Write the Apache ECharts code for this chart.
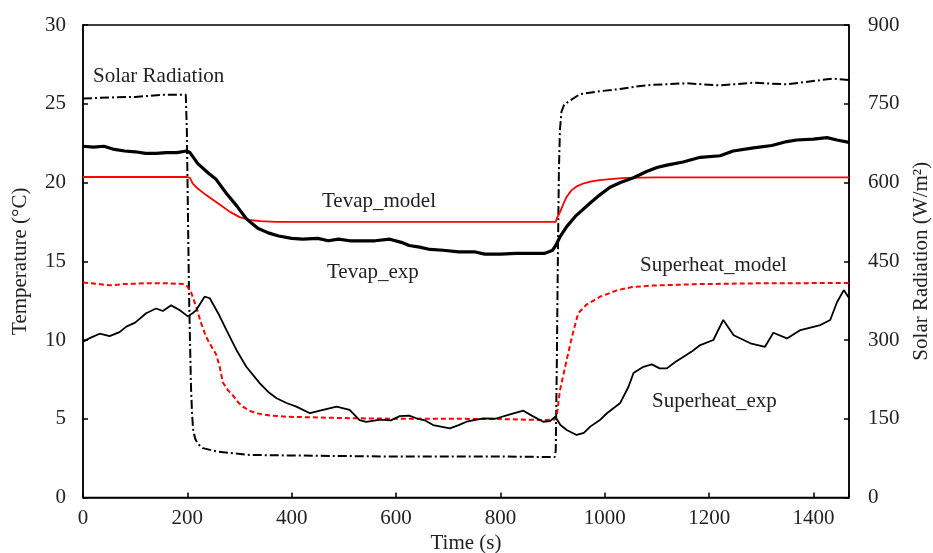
<!DOCTYPE html>
<html>
<head>
<meta charset="utf-8">
<script src="https://cdn.jsdelivr.net/npm/echarts@6/dist/echarts.min.js"></script>
<style>
  html, body { margin: 0; padding: 0; background: #fff; }
  #chart { width: 933px; height: 553px; }
</style>
</head>
<body>
<div id="chart"></div>
<script>
// time (s), value
const tevapExp = [[0,22.3],[20,22.25],[40,22.3],[60,22.1],[80,22.0],[100,21.95],[120,21.85],[140,21.85],[160,21.9],[180,21.9],[198,22.0],[205,21.9],[220,21.2],[240,20.6],[255,20.2],[275,19.3],[295,18.5],[313,17.7],[335,17.1],[355,16.8],[375,16.6],[400,16.45],[421,16.4],[450,16.45],[470,16.3],[490,16.4],[511,16.3],[540,16.3],[560,16.3],[588,16.4],[610,16.2],[625,16.0],[645,15.9],[665,15.75],[690,15.7],[720,15.6],[750,15.6],[770,15.45],[800,15.45],[830,15.5],[860,15.5],[885,15.5],[900,15.7],[906,16.0],[915,16.6],[927,17.2],[945,17.9],[972,18.7],[990,19.2],[1010,19.7],[1030,20.0],[1055,20.3],[1080,20.7],[1100,20.95],[1119,21.1],[1150,21.3],[1183,21.6],[1221,21.7],[1246,22.0],[1285,22.2],[1320,22.35],[1349,22.6],[1368,22.7],[1400,22.75],[1426,22.85],[1445,22.7],[1468,22.55]];

const tevapModel = [[0,20.35],[200,20.35],[205,20.3],[210,19.95],[217,19.7],[236,19.2],[262,18.6],[281,18.15],[300,17.8],[319,17.62],[340,17.55],[370,17.5],[906,17.5],[909,17.8],[914,18.1],[920,18.6],[927,19.1],[936,19.5],[946,19.75],[960,19.95],[972,20.05],[990,20.15],[1010,20.22],[1040,20.3],[1100,20.33],[1468,20.33]];

const superheatModel = [[0,13.65],[30,13.55],[51,13.47],[80,13.55],[120,13.6],[160,13.6],[195,13.55],[200,13.4],[207,13.05],[217,12.1],[226,11.1],[236,10.2],[246,9.6],[255,9.1],[262,8.3],[268,7.3],[278,6.8],[287,6.5],[297,6.05],[307,5.75],[320,5.5],[332,5.35],[360,5.2],[390,5.13],[450,5.08],[524,5.03],[600,5.0],[700,5.0],[800,4.98],[880,4.92],[904,4.95],[908,5.2],[914,6.8],[924,8.3],[937,10.2],[949,11.7],[965,12.25],[991,12.75],[1023,13.15],[1050,13.35],[1087,13.45],[1183,13.55],[1300,13.6],[1468,13.62]];

const superheatExp = [[0,9.9],[15,10.15],[32,10.4],[51,10.25],[70,10.5],[83,10.85],[100,11.1],[121,11.7],[140,12.0],[153,11.84],[169,12.2],[185,11.9],[201,11.5],[210,11.7],[217,11.9],[233,12.75],[243,12.65],[259,11.7],[275,10.63],[294,9.37],[313,8.3],[339,7.25],[355,6.7],[371,6.3],[390,6.0],[409,5.77],[435,5.35],[460,5.56],[486,5.77],[511,5.56],[530,4.92],[543,4.8],[570,4.95],[590,4.9],[607,5.17],[625,5.2],[639,5.03],[655,4.9],[671,4.6],[703,4.39],[720,4.6],[735,4.81],[767,5.03],[790,5.0],[820,5.3],[844,5.51],[860,5.2],[882,4.81],[895,4.85],[905,5.13],[915,4.6],[927,4.29],[946,3.97],[960,4.1],[972,4.5],[990,4.9],[1004,5.35],[1029,5.98],[1045,7.0],[1055,7.9],[1074,8.3],[1090,8.45],[1105,8.2],[1119,8.2],[1135,8.6],[1151,8.94],[1168,9.3],[1183,9.68],[1208,10.0],[1227,11.27],[1247,10.3],[1279,9.79],[1307,9.57],[1323,10.46],[1349,10.1],[1375,10.63],[1413,10.95],[1432,11.27],[1445,12.4],[1458,13.17],[1468,12.67]];

// W/m2 on right axis
const solar = [[0,760],[50,762],[100,763],[150,767],[197,767],[199,700],[201,550],[203,400],[205,300],[207,210],[209,160],[211,130],[215,112],[220,102],[230,94],[255,88],[290,84],[320,81],[400,80],[500,79],[600,78],[700,78],[800,78],[904,77],[906,90],[908,250],[910,450],[912,620],[914,700],[917,735],[922,748],[930,754],[952,768],[991,774],[1029,778],[1068,784],[1093,786],[1157,789],[1221,785],[1285,790],[1349,787],[1413,795],[1438,798],[1468,795]];

const font = 'Liberation Serif';
const txt = '#222';

let dom = echarts.init(document.getElementById('chart'));

// annotation text, x = left edge, y = vertical centre
function label(x, y, s) {
  return {
    type: 'text', left: x, top: y - 11,
    style: { text: s, fill: txt, font: '21px "Liberation Serif"' }
  };
}

dom.setOption({
  animation: false,
  grid: {
    left: 83, right: 84, top: 25, bottom: 55.5,
    outerBoundsMode: 'none', containLabel: false,
    show: true, borderColor: '#000', borderWidth: 1.5
  },
  xAxis: {
    type: 'value',
    min: 0, max: 1468, interval: 200,
    name: 'Time (s)', nameLocation: 'middle', nameGap: 34,
    nameTextStyle: { fontFamily: font, fontSize: 21, color: txt },
    axisLine: { lineStyle: { color: '#000', width: 1.5 } },
    axisTick: { inside: true, length: 5, lineStyle: { color: '#000', width: 1.5 } },
    axisLabel: {
      fontFamily: font, fontSize: 21, color: txt, margin: 10,
      formatter: function (v) { return v % 200 === 0 ? String(v) : ''; }
    },
    splitLine: { show: false }
  },
  yAxis: [{
    type: 'value',
    min: 0, max: 30, interval: 5,
    name: 'Temperature (°C)', nameLocation: 'middle', nameGap: 52,
    nameTextStyle: { fontFamily: font, fontSize: 21, color: txt },
    axisLine: { show: true, lineStyle: { color: '#000', width: 1.5 } },
    axisTick: { show: true, inside: true, length: 5, lineStyle: { color: '#000', width: 1.5 } },
    axisLabel: { fontFamily: font, fontSize: 21, color: txt, margin: 17 },
    splitLine: { show: false }
  }, {
    type: 'value',
    min: 0, max: 900, interval: 150,
    name: 'Solar Radiation (W/m²)', nameLocation: 'middle', nameGap: 62,
    nameTextStyle: { fontFamily: font, fontSize: 21, color: txt },
    axisLine: { show: true, lineStyle: { color: '#000', width: 1.5 } },
    axisTick: { show: true, inside: true, length: 5, lineStyle: { color: '#000', width: 1.5 } },
    axisLabel: { fontFamily: font, fontSize: 21, color: txt, margin: 19 },
    splitLine: { show: false }
  }],
  series: [
    {
      name: 'Solar Radiation', type: 'line', yAxisIndex: 1, data: solar,
      showSymbol: false, lineStyle: { color: '#000', width: 2, type: [9, 3, 2, 3] }
    },
    {
      name: 'Tevap_model', type: 'line', data: tevapModel,
      showSymbol: false, lineStyle: { color: '#ff0000', width: 1.8 }
    },
    {
      name: 'Superheat_model', type: 'line', data: superheatModel,
      showSymbol: false, lineStyle: { color: '#ff0000', width: 2, type: [5, 3] }
    },
    {
      name: 'Tevap_exp', type: 'line', data: tevapExp,
      showSymbol: false, lineStyle: { color: '#000', width: 3.2 }
    },
    {
      name: 'Superheat_exp', type: 'line', data: superheatExp,
      showSymbol: false, lineStyle: { color: '#000', width: 1.8 }
    }
  ],
  graphic: [
    label(93, 77, 'Solar Radiation'),
    label(322, 202, 'Tevap_model'),
    label(327, 273, 'Tevap_exp'),
    label(640, 266, 'Superheat_model'),
    label(652, 402, 'Superheat_exp')
  ]
});
dom.resize();
</script>
</body>
</html>
